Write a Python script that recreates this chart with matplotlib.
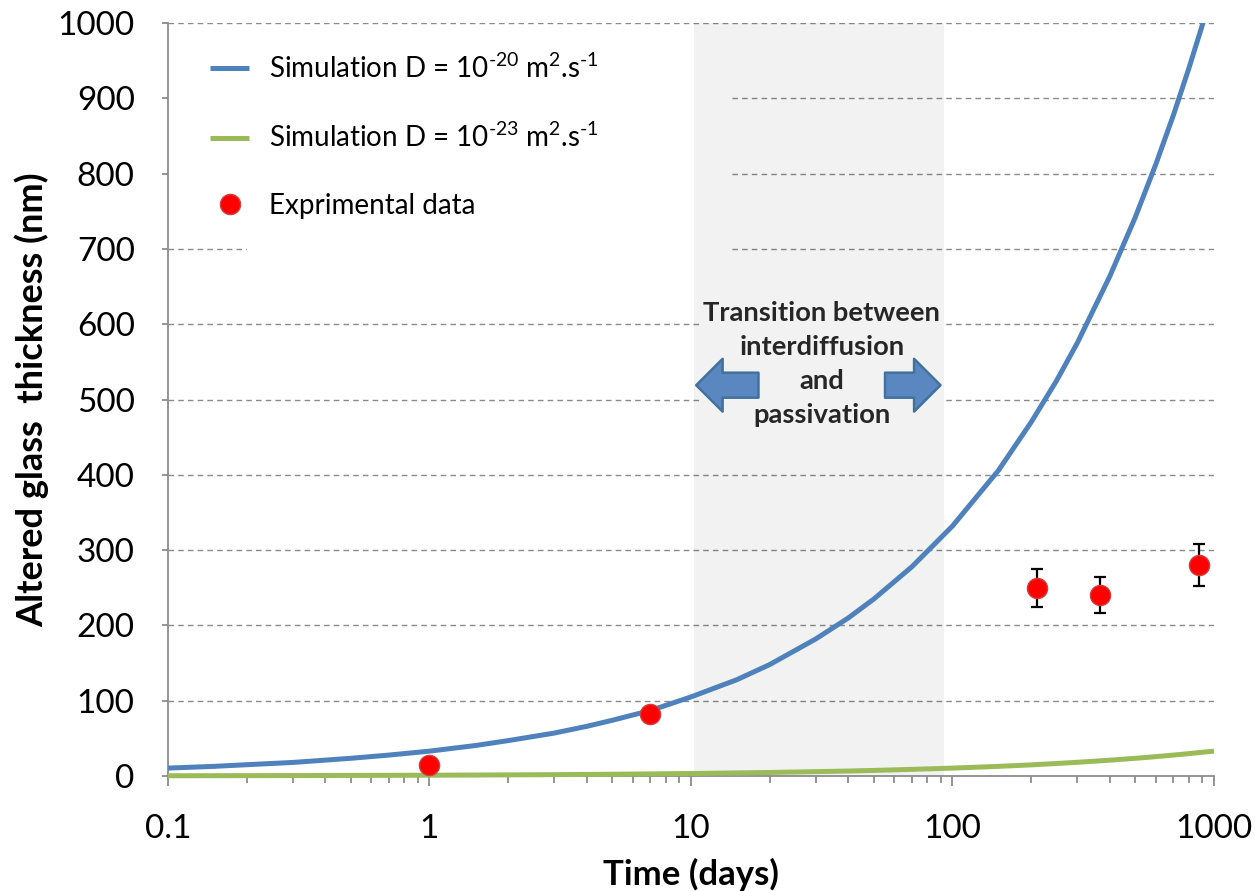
import matplotlib
matplotlib.use("Agg")
import matplotlib.pyplot as plt
from matplotlib.lines import Line2D
from matplotlib.patches import Rectangle, FancyArrowPatch, ArrowStyle
from matplotlib.ticker import FixedLocator, FixedFormatter, LogLocator, NullFormatter
import numpy as np

# ---- data -------------------------------------------------------------
time_sim = [0.1, 0.15, 0.2, 0.3, 0.5, 0.7, 1, 1.5, 2, 3, 4, 5, 7, 10, 15, 20,
            30, 40, 50, 70, 100, 150, 200, 250, 300, 400, 500, 600, 700, 800,
            900, 1000]
thick_d20 = [10.5, 12.8, 15, 18, 23.5, 27.8, 33, 40.5, 47, 57, 66, 74, 87,
             105, 128, 148, 182, 210, 235, 278, 332, 406, 470, 525, 575, 664,
             742, 813, 878, 939, 996, 1050]
thick_d23 = [0.33, 0.41, 0.47, 0.57, 0.74, 0.88, 1.05, 1.28, 1.5, 1.8, 2.1,
             2.35, 2.8, 3.3, 4.1, 4.7, 5.8, 6.6, 7.4, 8.8, 10.5, 12.8, 14.8,
             16.6, 18.2, 21.0, 23.5, 25.7, 27.8, 29.7, 31.5, 33]

exp_time = [1, 7, 210, 365, 875]
exp_thick = [15, 82, 250, 240, 280]
exp_err = [0, 0, 25, 24, 28]

transition_range = [10.3, 93]

x_ticks = [0.1, 1, 10, 100, 1000]
x_tick_labels = ["0.1", "1", "10", "100", "1000"]
y_ticks = list(range(0, 1001, 100))

label_d20 = r"Simulation D = 10$^{\text{-20}}$ m$^{\text{2}}$.s$^{\text{-1}}$"
label_d23 = r"Simulation D = 10$^{\text{-23}}$ m$^{\text{2}}$.s$^{\text{-1}}$"
label_exp = "Exprimental data"

# ---- style ------------------------------------------------------------
plt.rcParams["font.family"] = ["Lato", "DejaVu Sans"]
plt.rcParams["mathtext.fontset"] = "custom"
plt.rcParams["mathtext.rm"] = "Lato"
plt.rcParams["mathtext.it"] = "Lato:italic"
plt.rcParams["mathtext.bf"] = "Lato:bold"

BLUE = "#4F81BD"
GREEN = "#9BBB59"
AXIS_GRAY = "#8C8C8C"

fig = plt.figure(figsize=(12.55, 8.91), dpi=100)
ax = fig.add_axes([168 / 1255, 1 - 776 / 891, (1214 - 168) / 1255, (776 - 23) / 891])

ax.set_xscale("log")
ax.set_xlim(0.1, 1000)
ax.set_ylim(0, 1000)

# gridlines
for yv in y_ticks[1:]:
    ax.axhline(yv, color="#8A8A8A", lw=1.0, ls=(0, (4, 3)), zorder=0.5)

# white backing behind the legend block
ax.add_patch(Rectangle((0.0755, 0.6906), 0.4615, 0.293, transform=ax.transAxes,
                       facecolor="white", edgecolor="none", zorder=1))
ax.add_patch(Rectangle((0.0, 0.712), 0.0765, 0.239, transform=ax.transAxes,
                       facecolor="white", edgecolor="none", zorder=1))

# shaded transition window
ax.axvspan(transition_range[0], transition_range[1], color="black", alpha=0.05,
           lw=0, zorder=1.5)

# curves
ax.plot(time_sim, thick_d20, color=BLUE, lw=3.6, zorder=3, solid_capstyle="butt")
ax.plot(time_sim, thick_d23, color=GREEN, lw=3.6, zorder=3.2, clip_on=False,
        solid_capstyle="butt")

# experimental points
err_t = [t for t, e in zip(exp_time, exp_err) if e > 0]
err_y = [y for y, e in zip(exp_thick, exp_err) if e > 0]
err_e = [e for e in exp_err if e > 0]
ax.errorbar(err_t, err_y, yerr=err_e, fmt="none", ecolor="black", elinewidth=1.6,
            capsize=4.5, capthick=1.6, zorder=4)
ax.plot(exp_time, exp_thick, ls="none", marker="o", ms=14.5, mfc="#FF0000",
        mec="#D04040", mew=1.0, zorder=5)

# axes styling
for side in ("top", "right"):
    ax.spines[side].set_visible(False)
for side in ("left", "bottom"):
    ax.spines[side].set_color(AXIS_GRAY)
    ax.spines[side].set_linewidth(1.3)
    ax.spines[side].set_zorder(2.5)

ax.xaxis.set_major_locator(FixedLocator(x_ticks))
ax.xaxis.set_major_formatter(FixedFormatter(x_tick_labels))
ax.xaxis.set_minor_locator(LogLocator(base=10, subs=np.arange(2, 10)))
ax.xaxis.set_minor_formatter(NullFormatter())
ax.yaxis.set_major_locator(FixedLocator(y_ticks))

ax.tick_params(axis="x", which="major", direction="out", length=7.5, width=1.3,
               color=AXIS_GRAY, labelsize=24, pad=19.5)
ax.tick_params(axis="x", which="minor", direction="out", length=5, width=1.3,
               color=AXIS_GRAY)
ax.tick_params(axis="y", which="major", direction="out", length=4.5, width=1.3,
               color=AXIS_GRAY, labelsize=24, pad=19.5)

ax.set_xlabel("Time (days)", fontsize=25, fontweight="bold", labelpad=10)
ax.set_ylabel("Altered glass  thickness (nm)", fontsize=26, fontweight="bold",
              labelpad=6)

# legend
handles = [
    Line2D([], [], color=BLUE, lw=3.6, solid_capstyle="butt"),
    Line2D([], [], color=GREEN, lw=3.6, solid_capstyle="butt"),
    Line2D([], [], ls="none", marker="o", ms=14.5, mfc="#FF0000", mec="#D04040", mew=1.0),
]
leg = ax.legend(handles, [label_d20, label_d23, label_exp], loc="upper left",
                bbox_to_anchor=(0.030, 0.974), frameon=False, fontsize=20,
                handlelength=1.4, handletextpad=0.7, labelspacing=1.45,
                borderaxespad=0)
leg.set_zorder(6)

# transition annotation
ax.text(0.625, 0.547, "Transition between\ninterdiffusion\nand\npassivation",
        transform=ax.transAxes, ha="center", va="center", fontsize=19.7,
        fontweight="bold", color="#262626", linespacing=1.5, zorder=6,
        bbox=dict(boxstyle="square,pad=0.12", facecolor="#F2F2F2", edgecolor="none"))

arrow_style = ArrowStyle.Simple(head_length=19, head_width=38, tail_width=18)
for x0, x1 in ((0.5645, 0.505), (0.6855, 0.7385)):
    ax.add_patch(FancyArrowPatch((x0, 0.519), (x1, 0.519), transform=ax.transAxes,
                                 arrowstyle=arrow_style, mutation_scale=1,
                                 shrinkA=0, shrinkB=0, facecolor="#5B87C0",
                                 edgecolor="#41719C", lw=1.8, zorder=7))

fig.savefig("out.png", dpi=100)
